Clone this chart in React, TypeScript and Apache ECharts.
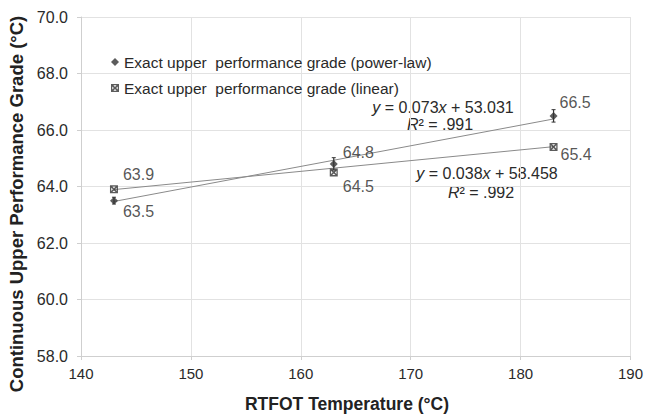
import React, { useEffect, useRef } from "react";
import * as echarts from "echarts";

const xTicks = [140, 150, 160, 170, 180, 190];
const temps = [143, 163, 183];
const powerLaw = [63.5, 64.8, 66.5];
const linear = [63.9, 64.5, 65.4];
const powerErr = [0.12, 0.22, 0.22];
const trendPower: [number, number][] = [[143, 63.47], [183, 66.39]];
const trendLinear: [number, number][] = [[143, 63.89], [183, 65.41]];
const powerLabelOffsets: [number, number][] = [[0, 11], [0, -11], [-3, -13]];
const linearLabelOffsets: [number, number][] = [[0, -15], [0, 14], [-2, 8]];

const FONT = "Liberation Sans, Arial, sans-serif";
const boxX =
  "path://M0,0L10,0L10,10L0,10Z M3,1.6L5,3.6L7,1.6Z M3,8.4L7,8.4L5,6.4Z M1.6,3L1.6,7L3.6,5Z M8.4,3L6.4,5L8.4,7Z";

const richItalic = { i: { fontStyle: "italic", fontSize: 16, fontFamily: FONT, fill: "#2a2a2a" } };

export default function App() {
  const ref = useRef<HTMLDivElement>(null);
  useEffect(() => {
    if (!ref.current) return;
    const chart = echarts.init(ref.current, null, { renderer: "svg" });
    const labelStyle = { color: "#2a2a2a", fontSize: 16, fontFamily: FONT, textBorderWidth: 0 };
    const eq = (x: number, y: number, text: string) => ({
      type: "text",
      x,
      y,
      style: {
        text,
        fill: "#2a2a2a",
        font: `16px ${FONT}`,
        align: "center",
        verticalAlign: "middle",
        rich: richItalic,
      },
    });
    chart.setOption({
      animation: false,
      backgroundColor: "#fff",
      grid: { left: 81, right: 13, top: 17, bottom: 59, containLabel: false },
      legend: {
        orient: "vertical",
        left: 111,
        top: 54,
        padding: 0,
        itemGap: 10,
        itemWidth: 8,
        itemHeight: 8,
        textStyle: { color: "#2a2a2a", fontSize: 15.5, fontFamily: FONT },
        data: [
          { name: "Exact upper  performance grade (power-law)", icon: "diamond" },
          { name: "Exact upper  performance grade (linear)", icon: boxX },
        ],
      },
      xAxis: {
        type: "value",
        min: xTicks[0],
        max: xTicks[xTicks.length - 1],
        interval: 10,
        axisLine: { show: true, lineStyle: { color: "#cfcfcf" } },
        axisTick: { show: true, length: 4, lineStyle: { color: "#cfcfcf" } },
        splitLine: { show: true, lineStyle: { color: "#e2e2e2" } },
        axisLabel: { color: "#2a2a2a", fontSize: 15, fontFamily: FONT, margin: 10 },
      },
      yAxis: {
        type: "value",
        min: 58,
        max: 70,
        interval: 2,
        axisLine: { show: true, lineStyle: { color: "#cfcfcf" } },
        axisTick: { show: true, length: 4, lineStyle: { color: "#cfcfcf" } },
        splitLine: { show: true, lineStyle: { color: "#e2e2e2" } },
        axisLabel: {
          color: "#2a2a2a",
          fontSize: 16,
          fontFamily: FONT,
          margin: 13,
          formatter: (v: number) => v.toFixed(1),
        },
      },
      series: [
        {
          type: "line",
          data: trendPower,
          showSymbol: false,
          symbol: "none",
          silent: true,
          lineStyle: { color: "#8a8a8a", width: 1 },
          z: 1,
        },
        {
          type: "line",
          data: trendLinear,
          showSymbol: false,
          symbol: "none",
          silent: true,
          lineStyle: { color: "#8a8a8a", width: 1 },
          z: 1,
        },
        {
          type: "custom",
          z: 2,
          renderItem: (params: any, api: any) => {
            const x = api.value(0);
            const y = api.value(1);
            const e = api.value(2);
            const top = api.coord([x, y + e]);
            const bot = api.coord([x, y - e]);
            return {
              type: "group",
              children: [
                { type: "line", shape: { x1: top[0], y1: top[1], x2: bot[0], y2: bot[1] }, style: { stroke: "#333", lineWidth: 1.2 } },
                { type: "line", shape: { x1: top[0] - 2, y1: top[1], x2: top[0] + 2, y2: top[1] }, style: { stroke: "#333", lineWidth: 1 } },
                { type: "line", shape: { x1: bot[0] - 2, y1: bot[1], x2: bot[0] + 2, y2: bot[1] }, style: { stroke: "#333", lineWidth: 1 } },
              ],
            };
          },
          data: temps.map((t, i) => [t, powerLaw[i], powerErr[i]]),
        },
        {
          name: "Exact upper  performance grade (power-law)",
          type: "scatter",
          symbol: "diamond",
          symbolSize: 8,
          itemStyle: { color: "#333" },
          z: 3,
          label: { show: true, ...labelStyle },
          data: temps.map((t, i) => ({
            value: [t, powerLaw[i]],
            label: {
              show: true,
              position: "right",
              offset: powerLabelOffsets[i],
              formatter: powerLaw[i].toFixed(1),
              ...labelStyle,
            },
          })),
        },
        {
          name: "Exact upper  performance grade (linear)",
          type: "scatter",
          symbol: boxX,
          symbolSize: 8,
          itemStyle: { color: "#333" },
          z: 3,
          label: { show: true, ...labelStyle },
          data: temps.map((t, i) => ({
            value: [t, linear[i]],
            label: {
              show: true,
              position: "right",
              offset: linearLabelOffsets[i],
              formatter: linear[i].toFixed(1),
              ...labelStyle,
            },
          })),
        },
      ],
      graphic: [
        eq(443, 107, "{i|y} = 0.073{i|x} + 53.031"),
        eq(440, 124, "{i|R}² = .991"),
        eq(487, 173, "{i|y} = 0.038{i|x} + 58.458"),
        eq(481, 192, "{i|R}² = .992"),
        {
          type: "text",
          x: 347,
          y: 404,
          style: {
            text: "RTFOT Temperature (°C)",
            fill: "#222",
            font: `bold 17.5px ${FONT}`,
            align: "center",
            verticalAlign: "middle",
          },
        },
        {
          type: "text",
          x: 16,
          y: 204,
          rotation: Math.PI / 2,
          style: {
            text: "Continuous Upper Performance Grade (°C)",
            fill: "#222",
            font: `bold 18.5px ${FONT}`,
            align: "center",
            verticalAlign: "middle",
          },
        },
      ],
    });
    return () => chart.dispose();
  }, []);
  return (
    <div
      ref={ref}
      style={{ position: "fixed", left: 0, top: 0, width: 646, height: 415 }}
    />
  );
}
